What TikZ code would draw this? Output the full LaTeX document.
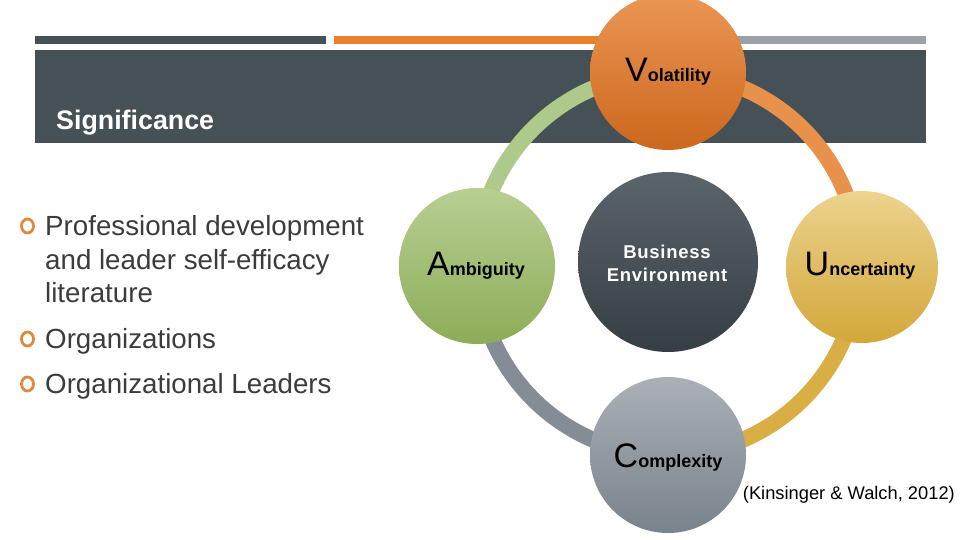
\documentclass[tikz,border=0pt]{standalone}
\usepackage{fontspec}
\setmainfont{Liberation Sans}
\usetikzlibrary{calc}
\definecolor{band}{HTML}{465157}
\definecolor{barorange}{HTML}{E5822B}
\definecolor{bargray}{HTML}{9BA1A7}
\definecolor{bullet}{HTML}{DB8A3E}
\definecolor{txt}{HTML}{3C3C3C}
\definecolor{arcgreen}{HTML}{AFC98A}
\definecolor{arcorange}{HTML}{E8914A}
\definecolor{arcgold}{HTML}{D8AE45}
\definecolor{arcgray}{HTML}{848D96}
\definecolor{volT}{HTML}{EB9654}
\definecolor{volB}{HTML}{CC671E}
\definecolor{ambT}{HTML}{B8CF92}
\definecolor{ambB}{HTML}{8DAC58}
\definecolor{busT}{HTML}{5A646B}
\definecolor{busB}{HTML}{353E43}
\definecolor{uncT}{HTML}{EDD38F}
\definecolor{uncB}{HTML}{D3A73A}
\definecolor{comT}{HTML}{AAB0B6}
\definecolor{comB}{HTML}{79838B}
\tikzset{
  ball/.style={circle, inner sep=0pt, draw=none},
  bul/.style={draw=bullet, line width=2.8pt},
  bodytext/.style={anchor=base west, inner sep=0pt, text=txt, font=\fontsize{27.7}{27.7}\selectfont},
  ringarc/.style={line width=16pt},
  lbl/.style={anchor=base, inner sep=0pt, text=black},
  bustext/.style={anchor=base, inner sep=0pt, text=white, font=\fontsize{18.5}{18.5}\selectfont\bfseries\addfontfeature{LetterSpace=4}},
}
\newcommand{\bigL}[1]{{\fontsize{34}{34}\selectfont #1}}
\newcommand{\smallL}[1]{{\fontsize{18}{18}\selectfont\bfseries #1}}
\begin{document}
\begin{tikzpicture}[x=1pt,y=-1pt]
\useasboundingbox (0,0) rectangle (960,540);
\fill[white] (0,0) rectangle (960,540);
% header bars
\fill[band] (35,36) rectangle (326,44);
\fill[barorange] (334,36) rectangle (640,44);
\fill[bargray] (640,36) rectangle (926,44);
\fill[band] (35,50) rectangle (926,143);
\node[anchor=base west, inner sep=0pt, text=white, font=\fontsize{26.8}{26.8}\selectfont\bfseries] (sig) at (56,130) {Significance};
% bullets
\draw[bul] (27.5,226) ellipse[x radius=6, y radius=7];
\node[bodytext] (b1a) at (45,235) {Professional development};
\node[bodytext] (b1b) at (45,269) {and leader self-efficacy};
\node[bodytext] (b1c) at (45,302) {literature};
\draw[bul] (27.5,339) ellipse[x radius=6, y radius=7];
\node[bodytext] (b2) at (45,348) {Organizations};
\draw[bul] (27.5,384) ellipse[x radius=6, y radius=7];
\node[bodytext] (b3) at (45,393) {Organizational Leaders};
% ring
\coordinate (rc) at (668,264);
\draw[ringarc, arcgreen] (rc) ++(180:191) arc[start angle=180, end angle=270, radius=191];
\draw[ringarc, arcorange] (rc) ++(270:191) arc[start angle=270, end angle=360, radius=191];
\draw[ringarc, arcgold] (rc) ++(0:191) arc[start angle=0, end angle=90, radius=191];
\draw[ringarc, arcgray] (rc) ++(90:191) arc[start angle=90, end angle=180, radius=191];
% circles
\node[ball, minimum size=156pt, top color=volT, bottom color=volB] (vol) at (668,72) {};
\node[ball, minimum size=156pt, top color=ambT, bottom color=ambB] (amb) at (477,266) {};
\node[ball, minimum size=180pt, top color=busT, bottom color=busB] (bus) at (668,262) {};
\node[ball, minimum size=152pt, top color=uncT, bottom color=uncB] (unc) at (862,267) {};
\node[ball, minimum size=156pt, top color=comT, bottom color=comB] (com) at (668,455) {};
% labels
\node[lbl] (tvol) at (668,82) {\bigL{V}\smallL{olatility}};
\node[lbl] (tamb) at (476,275) {\bigL{A}\smallL{mbiguity}};
\node[lbl] (tunc) at (860,275) {\bigL{U}\smallL{ncertainty}};
\node[lbl] (tcom) at (668,467) {\bigL{C}\smallL{omplexity}};
\node[bustext] (tbus1) at (667,258) {Business};
\node[bustext] (tbus2) at (667,281) {Environment};
\node[anchor=base east, inner sep=0pt, text=black, font=\fontsize{18.3}{18.3}\selectfont] (cite) at (955,499) {(Kinsinger \& Walch, 2012)};
\end{tikzpicture}
\end{document}
